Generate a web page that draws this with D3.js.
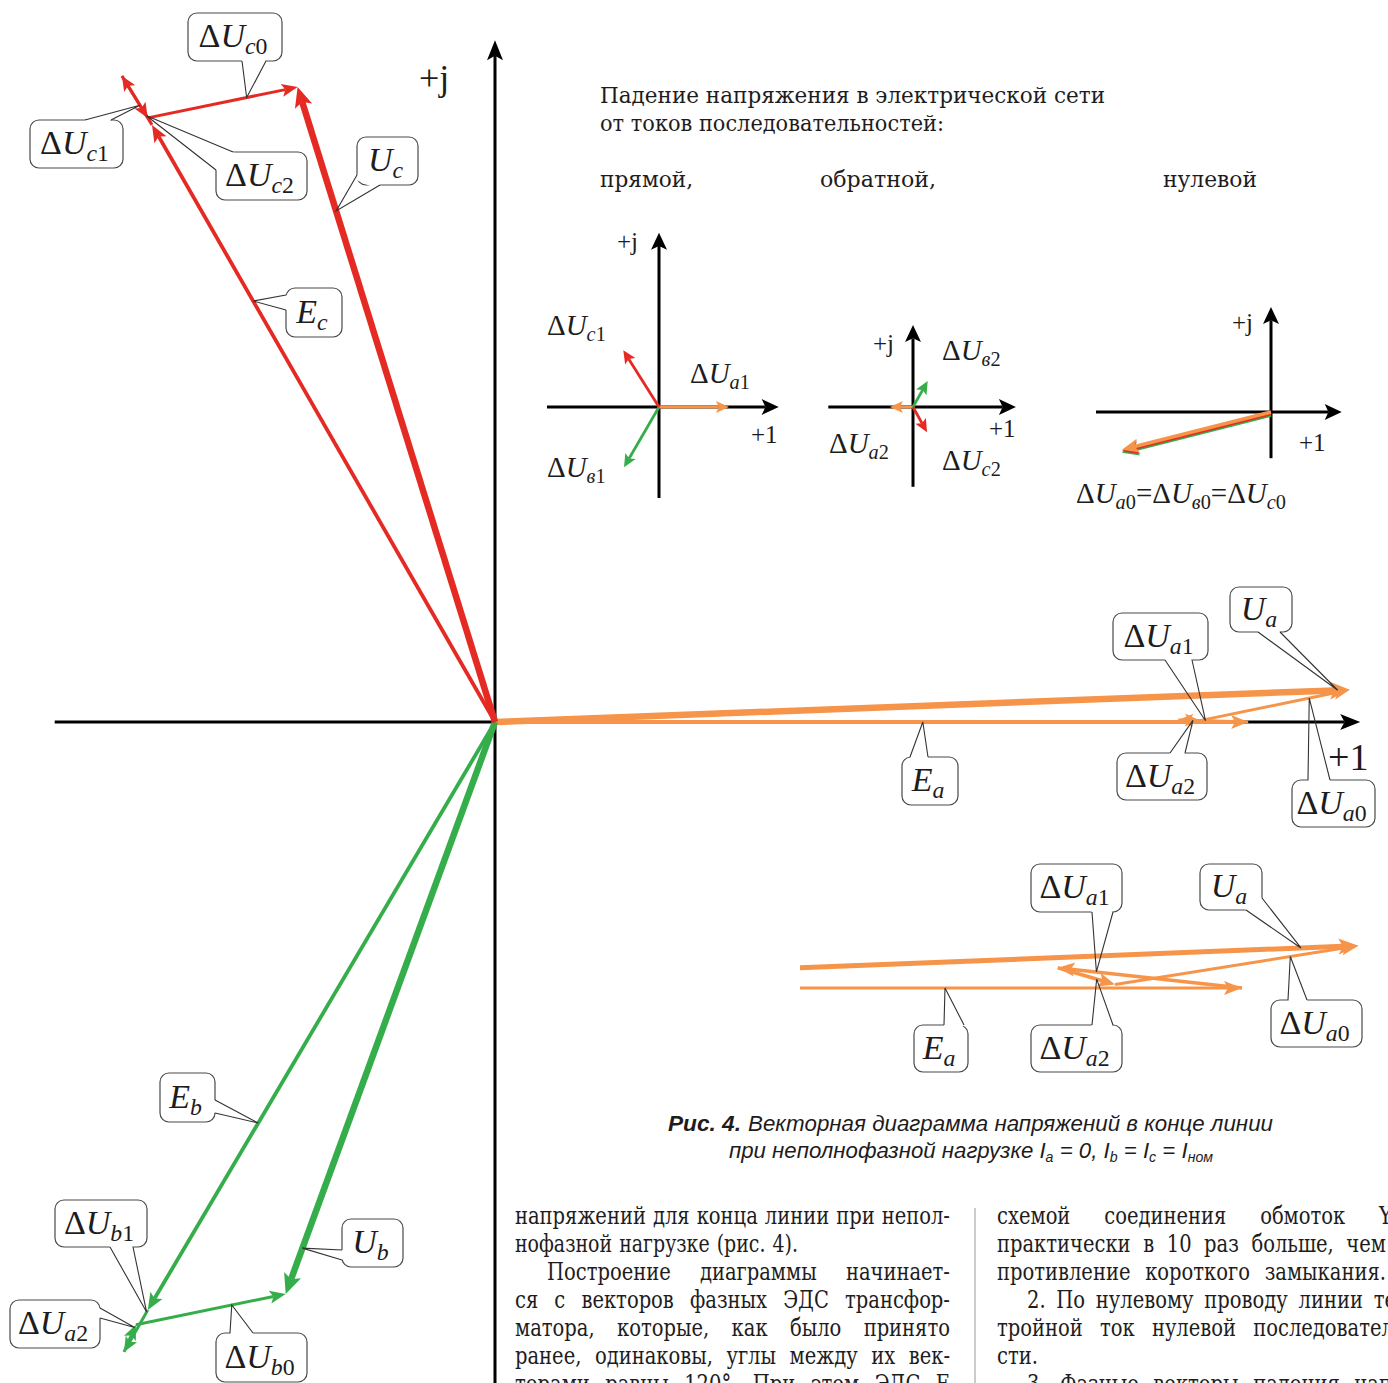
<!DOCTYPE html>
<html><head><meta charset="utf-8">
<script src="https://cdn.jsdelivr.net/npm/d3@7"></script>
<style>html,body{margin:0;padding:0;background:#fff} svg{display:block}</style>
</head><body>
<svg id="fig" width="1388" height="1383"></svg>
<script>
// ---------- phasor values, per unit, [re, im] ----------
const phases   = ["a", "b", "c"];
const emf      = [[1.076, 0], [-0.496, -0.840], [-0.490, 0.853]];
const drop1    = [[-0.100, 0.003], [-0.034, -0.060], [-0.043, 0.070]];
const drop2    = [[0.031, -0.001], [0.017, 0.039], [0.037, -0.060]];
const drop0    = [0.214, 0.044];
const terminal = [[1.221, 0.046], [-0.299, -0.817], [-0.282, 0.907]];
const mainAxisRe = [-0.629, 1.236];
const mainAxisIm = [-0.95, 0.974];

// sequence components shown in the three small diagrams
const seqPositive = [[0.100, 0], [-0.050, -0.086], [-0.051, 0.081]];
const seqNegative = [[-0.033, 0], [0.021, 0.037], [0.020, -0.036]];
const seqZero     = [-0.213, -0.054];
const insetAxes = [
  {re: [-0.160, 0.171], im: [-0.130, 0.249]},
  {re: [-0.121, 0.147], im: [-0.114, 0.117]},
  {re: [-0.250, 0.101], im: [-0.066, 0.150]}
];

// enlarged end of phase a
const detailEmf      = [1.076, 0];
const detailDrops    = [[-0.209, 0.023], [0.065, -0.019], [0.276, 0.044]];
const detailTerminal = [1.208, 0.048];

// texts
const headerLines = ["Падение напряжения в электрической сети", "от токов последовательностей:"];
const seqNames = ["прямой,", "обратной,", "нулевой"];
const captionBold = "Рис. 4.";
const captionLine1 = "Векторная диаграмма напряжений в конце линии";
const leftColumn = [
  "напряжений для конца линии при непол-",
  "нофазной нагрузке (рис. 4).",
  "Построение диаграммы начинает-",
  "ся с векторов фазных ЭДС трансфор-",
  "матора, которые, как было принято",
  "ранее, одинаковы, углы между их век-",
  "торами равны 120°. При этом ЭДС E"
];
const rightColumn = [
  "схемой соединения обмоток Y",
  "практически в 10 раз больше, чем",
  "противление короткого замыкания.",
  "2. По нулевому проводу линии те",
  "тройной ток нулевой последовател",
  "сти.",
  "3. Фазные векторы падения нап"
];

// ---------- setup ----------
const color = {a: "#f6944a", b: "#36ad4b", c: "#e52a24"};
const serif = "'Liberation Serif','Times New Roman',serif";
const bodyFont = "'DejaVu Serif',serif";
const capFont = "'Liberation Sans',Arial,sans-serif";
const ink = "#1e1c1c";

const svg = d3.select("#fig");
svg.append("rect").attr("width", 1388).attr("height", 1383).attr("fill", "#fff");

const add = (p, q) => [p[0] + q[0], p[1] + q[1]];
const lerp = (p, q, t) => [p[0] + (q[0] - p[0]) * t, p[1] + (q[1] - p[1]) * t];

function arrow(g, p0, p1, col, w, L, hw) {
  const dx = p1[0] - p0[0], dy = p1[1] - p0[1], len = Math.hypot(dx, dy);
  const ux = dx / len, uy = dy / len, px = -uy, py = ux;
  const notch = L * 0.22;
  const bx = p1[0] - ux * L, by = p1[1] - uy * L;
  const nx = p1[0] - ux * (L - notch), ny = p1[1] - uy * (L - notch);
  g.append("line").attr("x1", p0[0]).attr("y1", p0[1]).attr("x2", nx).attr("y2", ny)
    .attr("stroke", col).attr("stroke-width", w);
  g.append("path")
    .attr("d", `M${p1[0]},${p1[1]}L${bx + px * hw},${by + py * hw}L${nx},${ny}L${bx - px * hw},${by - py * hw}Z`)
    .attr("fill", col);
}

// symbol like ΔU with italic letter subscript and upright digit
function sym(t, spec, fs) {
  const sfs = fs * 0.7, drop = fs * 0.2;
  if (spec.d) t.append("tspan").text("Δ");
  t.append("tspan").attr("font-style", "italic").text(spec.m);
  if (spec.s) t.append("tspan").attr("font-style", "italic").attr("font-size", sfs).attr("dy", drop).text(spec.s);
  if (spec.n) t.append("tspan").attr("font-size", sfs).attr("dy", spec.s ? null : drop).text(spec.n);
}
function symText(g, x, y, spec, fs, anchor) {
  const t = g.append("text").attr("x", x).attr("y", y).attr("font-family", serif)
    .attr("font-size", fs).attr("fill", ink).attr("text-anchor", anchor || "start");
  sym(t, spec, fs);
  return t;
}

function callout(g, c, tip, fs) {
  const [x0, y0, x1, y1] = c.box, cx = (x0 + x1) / 2, cy = (y0 + y1) / 2;
  const [b1, b2] = c.base;
  g.append("rect").attr("x", x0).attr("y", y0).attr("width", x1 - x0).attr("height", y1 - y0)
    .attr("rx", 9).attr("fill", "#fff").attr("stroke", "#4a4a4a").attr("stroke-width", 1.2);
  const e1 = lerp(b1, tip, 0.12), e2 = lerp(b2, tip, 0.12);
  const i1 = lerp(b1, [cx, cy], 0.2), i2 = lerp(b2, [cx, cy], 0.2);
  g.append("path").attr("d", `M${b1}L${e1}L${e2}L${b2}L${i2}L${i1}Z`).attr("fill", "#fff");
  g.append("path").attr("d", `M${b1}L${tip}L${b2}`).attr("fill", "none")
    .attr("stroke", "#333").attr("stroke-width", 1.1);
  symText(g, cx - 2, cy + fs * 0.3, c.lab, fs, "middle");
}

function arrowAxis(g, p0, p1, w, L, hw) { arrow(g, p0, p1, "#000", w, L, hw); }

// ---------- main diagram ----------
const x = d3.scaleLinear().domain([0, 1]).range([495, 1195]);
const y = d3.scaleLinear().domain([0, 1]).range([722, 22]);
const P = d => [x(d[0]), y(d[1])];

const gMain = svg.append("g");
arrowAxis(gMain, P([mainAxisRe[0], 0]), P([mainAxisRe[1], 0]), 3, 20, 8);
arrowAxis(gMain, P([0, mainAxisIm[0] - 0.05]), P([0, mainAxisIm[1]]), 3, 20, 8);
gMain.append("text").attr("x", 419).attr("y", 90).attr("font-family", serif).attr("font-size", 36)
  .attr("fill", ink).text("+j");
gMain.append("text").attr("x", 1328).attr("y", 770).attr("font-family", serif).attr("font-size", 38)
  .attr("fill", ink).text("+1");

function chain(i) {
  const o = [0, 0], e = emf[i], k1 = add(e, drop1[i]), k2 = add(k1, drop2[i]), u = terminal[i];
  return {E: [o, e], d1: [e, k1], d2: [k1, k2], d0: [k2, u], U: [o, u]};
}
const chains = phases.map((p, i) => chain(i));

phases.forEach((p, i) => {
  const ch = chains[i], col = color[p];
  const g = gMain.append("g");
  arrow(g, P(ch.E[0]), P(ch.E[1]), col, 3.8, 17, 7);
  arrow(g, P(ch.d1[0]), P(ch.d1[1]), col, 3, 15, 6.5);
  arrow(g, P(ch.d2[0]), P(ch.d2[1]), col, 3, 15, 6.5);
  arrow(g, P(ch.d0[0]), P(ch.d0[1]), col, 3, 16, 6.5);
  arrow(g, P(ch.U[0]), P(ch.U[1]), col, 6.5, 20, 9);
});

const mainCallouts = [
  {lab: {d: 1, m: "U", s: "c", n: "0"}, ph: 2, part: "d0", t: 0.66, box: [188, 13, 282, 61], base: [[242, 61], [266, 61]]},
  {lab: {d: 1, m: "U", s: "c", n: "1"}, ph: 2, part: "d1", t: 0.4, box: [30, 120, 123, 168], base: [[85, 120], [111, 120]]},
  {lab: {d: 1, m: "U", s: "c", n: "2"}, ph: 2, part: "d2", t: 0.95, box: [216, 152, 307, 200], base: [[216, 170], [233, 152]]},
  {lab: {m: "U", s: "c"}, ph: 2, part: "U", t: 0.805, box: [357, 137, 418, 185], base: [[357, 175], [380, 185]]},
  {lab: {m: "E", s: "c"}, ph: 2, part: "E", t: 0.705, box: [286, 288, 342, 337], base: [[286, 295], [286, 310]]},
  {lab: {m: "U", s: "a"}, ph: 0, part: "U", t: 0.986, box: [1230, 587, 1292, 632], base: [[1258, 632], [1280, 632]]},
  {lab: {d: 1, m: "U", s: "a", n: "1"}, ph: 0, part: "d1", t: 0.61, box: [1113, 613, 1208, 660], base: [[1165, 660], [1192, 660]]},
  {lab: {d: 1, m: "U", s: "a", n: "2"}, ph: 0, part: "d2", t: 0.68, box: [1117, 753, 1207, 800], base: [[1170, 753], [1185, 753]]},
  {lab: {d: 1, m: "U", s: "a", n: "0"}, ph: 0, part: "d0", t: 0.73, box: [1292, 780, 1375, 827], base: [[1308, 780], [1330, 780]]},
  {lab: {m: "E", s: "a"}, ph: 0, part: "E", t: 0.568, box: [902, 757, 958, 805], base: [[910, 757], [928, 757]]},
  {lab: {m: "E", s: "b"}, ph: 1, part: "E", t: 0.682, box: [160, 1073, 215, 1122], base: [[215, 1100], [215, 1113]]},
  {lab: {d: 1, m: "U", s: "b", n: "1"}, ph: 1, part: "d1", t: 0.05, box: [55, 1200, 147, 1247], base: [[110, 1247], [133, 1247]]},
  {lab: {d: 1, m: "U", s: "a", n: "2"}, ph: 1, part: "d2", t: 0.9, box: [10, 1300, 100, 1348], base: [[100, 1308], [100, 1318]]},
  {lab: {d: 1, m: "U", s: "b", n: "0"}, ph: 1, part: "d0", t: 0.64, box: [216, 1333, 307, 1382], base: [[230, 1333], [253, 1333]]},
  {lab: {m: "U", s: "b"}, ph: 1, part: "U", t: 0.92, box: [342, 1219, 403, 1267], base: [[342, 1250], [342, 1260]]}
];
const gCall = svg.append("g");
mainCallouts.forEach(c => {
  const seg = chains[c.ph][c.part];
  callout(gCall, c, P(lerp(seg[0], seg[1], c.t)), 34);
});

// ---------- enlarged end of phase a ----------
const xd = d3.scaleLinear().domain([0, 1]).range([293, 1175]);
const yd = d3.scaleLinear().domain([0, 1]).range([988, 106]);
const PD = d => [xd(d[0]), yd(d[1])];
svg.append("clipPath").attr("id", "detailClip").append("rect")
  .attr("x", 800).attr("y", 840).attr("width", 588).attr("height", 260);
const gDet = svg.append("g");
const gDetClip = gDet.append("g").attr("clip-path", "url(#detailClip)");
const dk1 = add(detailEmf, detailDrops[0]), dk2 = add(dk1, detailDrops[1]);
const detailChain = {E: [[0, 0], detailEmf], d1: [detailEmf, dk1], d2: [dk1, dk2], d0: [dk2, detailTerminal], U: [[0, 0], detailTerminal]};
arrow(gDetClip, PD(detailChain.E[0]), PD(detailChain.E[1]), color.a, 3.2, 18, 7);
arrow(gDetClip, PD(detailChain.U[0]), PD(detailChain.U[1]), color.a, 5, 20, 8);
arrow(gDetClip, PD(detailChain.d1[0]), PD(detailChain.d1[1]), color.a, 3.5, 17, 7);
arrow(gDetClip, PD(detailChain.d2[0]), PD(detailChain.d2[1]), color.a, 3.5, 17, 7);
arrow(gDetClip, PD(detailChain.d0[0]), PD(detailChain.d0[1]), color.a, 3, 17, 7);

const detailCallouts = [
  {lab: {d: 1, m: "U", s: "a", n: "1"}, part: "d1", t: 0.79, box: [1031, 864, 1122, 912], base: [[1092, 912], [1113, 912]]},
  {lab: {d: 1, m: "U", s: "a", n: "2"}, part: "d2", t: 0.68, box: [1031, 1025, 1122, 1072], base: [[1092, 1025], [1113, 1025]]},
  {lab: {m: "U", s: "a"}, part: "U", t: 0.946, box: [1200, 864, 1262, 910], base: [[1246, 910], [1262, 898]]},
  {lab: {d: 1, m: "U", s: "a", n: "0"}, part: "d0", t: 0.72, box: [1271, 1000, 1362, 1047], base: [[1288, 1000], [1307, 1000]]},
  {lab: {m: "E", s: "a"}, part: "E", t: 0.687, box: [914, 1025, 968, 1072], base: [[944, 1025], [964, 1025]]}
];
detailCallouts.forEach(c => {
  const seg = detailChain[c.part];
  callout(gDet, c, PD(lerp(seg[0], seg[1], c.t)), 34);
});

// ---------- sequence diagrams ----------
const insetOrigins = [[659, 407], [913, 407], [1271, 412]];
const insetScales = insetOrigins.map(o => ({
  x: d3.scaleLinear().domain([0, 1]).range([o[0], o[0] + 700]),
  y: d3.scaleLinear().domain([0, 1]).range([o[1], o[1] - 700])
}));
const gIns = svg.append("g");
insetAxes.forEach((ax, k) => {
  const s = insetScales[k], Q = d => [s.x(d[0]), s.y(d[1])];
  arrowAxis(gIns, Q([ax.re[0], 0]), Q([ax.re[1], 0]), 3, 17, 8);
  arrowAxis(gIns, Q([0, ax.im[0]]), Q([0, ax.im[1]]), 3, 17, 8);
});
[seqPositive, seqNegative].forEach((set, k) => {
  const s = insetScales[k], Q = d => [s.x(d[0]), s.y(d[1])];
  set.forEach((v, i) => arrow(gIns, Q([0, 0]), Q(v), color[phases[i]], 2.8, 13, 6));
});
{
  const s = insetScales[2], Q = d => [s.x(d[0]), s.y(d[1])];
  const layer = [["b", 3], ["c", 1.5], ["a", 0]];
  layer.forEach(([p, off]) => {
    const g = gIns.append("g").attr("transform", `translate(0,${off})`);
    arrow(g, Q([0, 0]), Q(seqZero), color[p], 3.5, 17, 7);
  });
}
const insFs = 29;
const plain = (x0, y0, txt, fs) => gIns.append("text").attr("x", x0).attr("y", y0)
  .attr("font-family", serif).attr("font-size", fs).attr("fill", ink).text(txt);
plain(617, 250, "+j", 25); plain(751, 443, "+1", 25);
plain(873, 352, "+j", 25); plain(989, 437, "+1", 25);
plain(1232, 331, "+j", 25); plain(1299, 451, "+1", 25);
symText(gIns, 547, 335, {d: 1, m: "U", s: "c", n: "1"}, insFs);
symText(gIns, 690, 383, {d: 1, m: "U", s: "a", n: "1"}, insFs);
symText(gIns, 547, 477, {d: 1, m: "U", s: "в", n: "1"}, insFs);
symText(gIns, 942, 360, {d: 1, m: "U", s: "в", n: "2"}, insFs);
symText(gIns, 829, 453, {d: 1, m: "U", s: "a", n: "2"}, insFs);
symText(gIns, 942, 470, {d: 1, m: "U", s: "c", n: "2"}, insFs);
{
  const t = gIns.append("text").attr("x", 1076).attr("y", 503).attr("font-family", serif)
    .attr("font-size", insFs).attr("fill", ink);
  const parts = [{d: 1, m: "U", s: "a", n: "0"}, {d: 1, m: "U", s: "в", n: "0"}, {d: 1, m: "U", s: "c", n: "0"}];
  parts.forEach((sp, i) => {
    if (i > 0) t.append("tspan").attr("dy", -insFs * 0.2).text("=");
    sym(t, sp, insFs);
  });
}

// ---------- header text ----------
const gTxt = svg.append("g").attr("fill", ink);
function fitLine(g, str, x0, x1, y0, fam, fs, extra) {
  const t = g.append("text").attr("x", x0).attr("y", y0).attr("font-family", fam).attr("font-size", fs)
    .attr("textLength", x1 - x0).attr("lengthAdjust", "spacingAndGlyphs").text(str);
  if (extra) extra(t);
  return t;
}
fitLine(gTxt, headerLines[0], 600, 1105, 103, bodyFont, 22);
fitLine(gTxt, headerLines[1], 600, 944, 131, bodyFont, 22);
fitLine(gTxt, seqNames[0], 600, 693, 187, bodyFont, 22);
fitLine(gTxt, seqNames[1], 820, 936, 187, bodyFont, 22);
fitLine(gTxt, seqNames[2], 1163, 1257, 187, bodyFont, 22);

// ---------- caption ----------
fitLine(gTxt, captionBold, 668, 741, 1131, capFont, 22, t => t.attr("font-style", "italic").attr("font-weight", "bold"));
fitLine(gTxt, captionLine1, 748, 1273, 1131, capFont, 22, t => t.attr("font-style", "italic"));
{
  const t = gTxt.append("text").attr("x", 729).attr("y", 1158).attr("font-family", capFont)
    .attr("font-size", 22).attr("font-style", "italic").attr("textLength", 484)
    .attr("lengthAdjust", "spacingAndGlyphs");
  const sub = (s) => t.append("tspan").attr("font-size", 14).attr("dy", 4).text(s);
  const back = (s) => t.append("tspan").attr("dy", -4).text(s);
  t.append("tspan").text("при неполнофазной нагрузке I");
  sub("a"); back(" = 0, I"); sub("b"); back(" = I"); sub("c"); back(" = I"); sub("ном");
}

// ---------- body columns: condensed, justified word by word ----------
const bodyFs = 24, minGap = 7;
function wordWidths(words) {
  const t = gTxt.append("text").attr("font-family", bodyFont).attr("font-size", bodyFs);
  const w = words.map(s => { t.text(s); return t.node().getComputedTextLength(); });
  t.remove(); return w;
}
// horizontal squeeze taken from the first, normally spaced line
const firstWords = leftColumn[0].split(" ");
const baseCond = (435 - minGap * (firstWords.length - 1)) / d3.sum(wordWidths(firstWords));
function justify(str, x0, x1, y0) {
  const words = str.split(" ");
  const nat = wordWidths(words);
  const span = x1 - x0, n = words.length;
  const cond = Math.min(baseCond, n > 1 ? (span - minGap * (n - 1)) / d3.sum(nat) : baseCond);
  const t = gTxt.append("text").attr("font-family", bodyFont).attr("font-size", bodyFs)
    .attr("transform", `translate(${x0},${y0}) scale(${cond},1)`);
  const avail = span / cond;
  const gap = n > 1 ? (avail - d3.sum(nat)) / (n - 1) : 0;
  let cx = 0;
  words.forEach((w, i) => { t.append("tspan").attr("x", cx).attr("y", 0).text(w); cx += nat[i] + gap; });
}
const leftSpans = [[515, 950], [515, 798], [547, 950], [515, 950], [515, 950], [515, 950], [515, 950]];
const rightSpans = [[997, 1392], [997, 1386], [997, 1386], [1027, 1396], [997, 1394], [997, 1038], [1027, 1392]];
leftColumn.forEach((s, i) => justify(s, leftSpans[i][0], leftSpans[i][1], 1224 + 28 * i));
rightColumn.forEach((s, i) => justify(s, rightSpans[i][0], rightSpans[i][1], 1224 + 28 * i));
svg.append("line").attr("x1", 975).attr("x2", 975).attr("y1", 1208).attr("y2", 1383)
  .attr("stroke", "#9a9a9a").attr("stroke-width", 1);
</script>
</body></html>
